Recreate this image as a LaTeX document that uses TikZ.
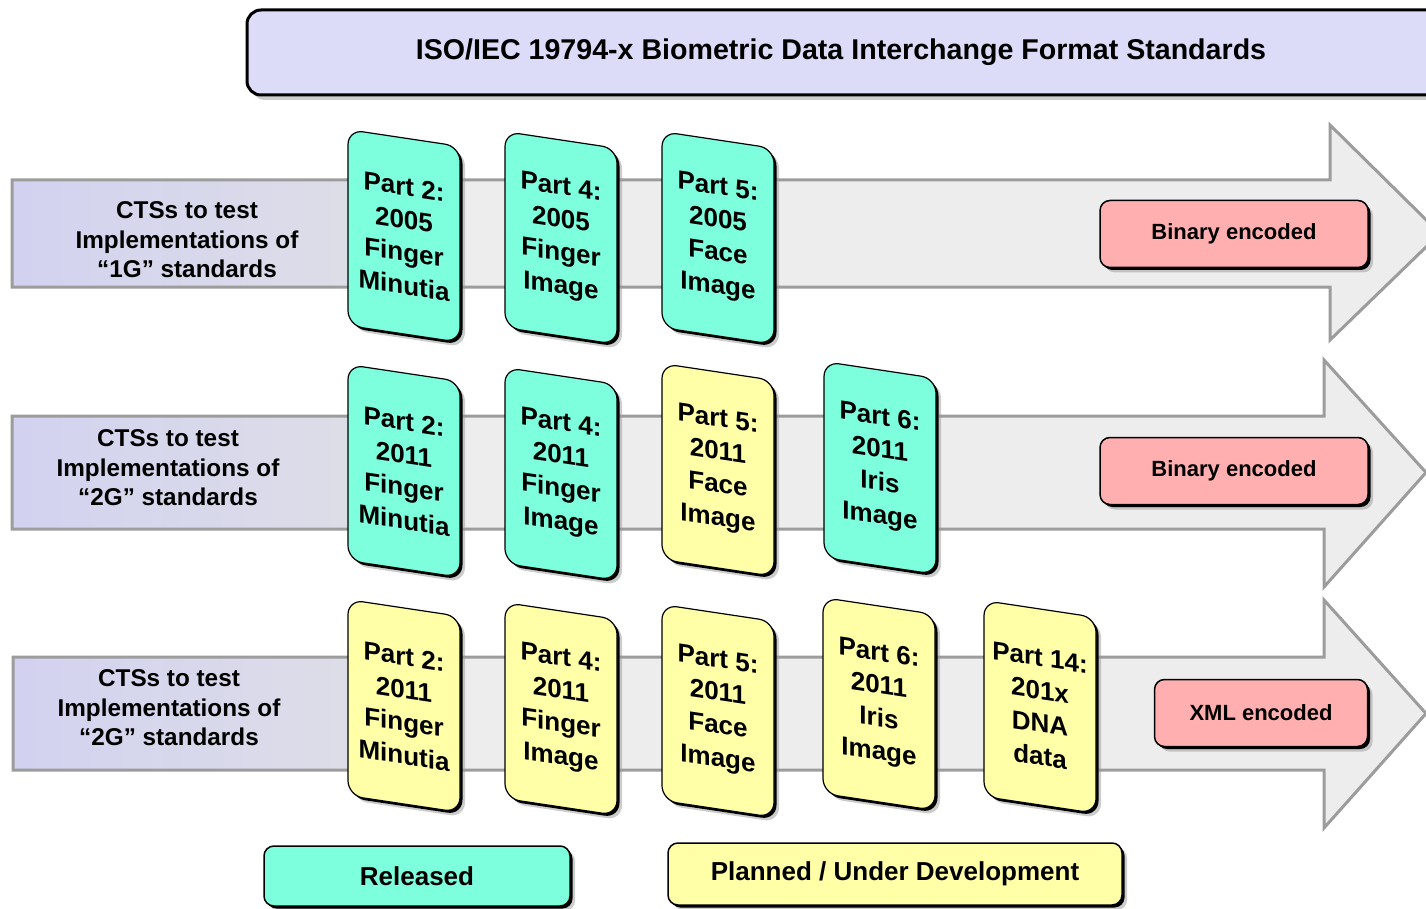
\documentclass[tikz,border=0pt]{standalone}
\usepackage{fontspec}
\setmainfont{Liberation Sans}
\usetikzlibrary{shadows}
\definecolor{lav}{HTML}{DCDCF8}
\definecolor{lavl}{HTML}{D2D2F0}
\definecolor{lavr}{HTML}{DDDDE8}
\definecolor{agray}{HTML}{EDEDED}
\definecolor{aborder}{HTML}{9C9C9C}
\definecolor{cyanc}{HTML}{7DFFDE}
\definecolor{yelc}{HTML}{FFFFA8}
\definecolor{pinkc}{HTML}{FFAFAF}
\begin{document}
\begin{tikzpicture}[x=1pt,y=-1pt,
  sh/.style={general shadow={fill=black!40, opacity=0.5, shadow xshift=5pt, shadow yshift=-5pt},
             general shadow={fill=black, shadow xshift=2.5pt, shadow yshift=-2.5pt}},
  card/.style={draw=black, line width=1.2pt, rounded corners=15pt, minimum width=112pt,
    minimum height=196pt, align=center, yslant=-0.15, inner sep=0pt, sh,
    font=\fontsize{26}{33}\selectfont\bfseries},
  rel/.style={card, fill=cyanc},
  plan/.style={card, fill=yelc},
  enc/.style={draw=black, line width=1.5pt, rounded corners=10pt, fill=pinkc, sh,
    minimum height=67pt, font=\fontsize{22}{26}\selectfont\bfseries},
  leg/.style={draw=black, line width=1.5pt, rounded corners=10pt, sh,
    font=\fontsize{26}{30}\selectfont\bfseries},
  lab/.style={align=center, font=\fontsize{24.3}{29.5}\selectfont\bfseries},
  arr/.style={draw=aborder, line width=3pt, line join=miter},
]
\useasboundingbox (0,0) rectangle (1426,909);
\clip (0,0) rectangle (1426,909);

% title
\path[draw=black, line width=3pt, rounded corners=14pt, fill=lav,
  general shadow={fill=black!40, opacity=0.5, shadow xshift=4pt, shadow yshift=-5pt}]
  (247,10) rectangle (1480,95);
\node[font=\fontsize{28.6}{32}\selectfont\bfseries] (title) at (841,52)
  {ISO/IEC 19794-x Biometric Data Interchange Format Standards};

% arrows
\foreach \lx/\yt/\yb/\ht/\hb/\bx/\tx in {12/180/287/125/340/1330/1440, 12/416/529/360/587/1324/1426, 13/657/770/600/828/1324/1426}{
  \fill[agray] (\lx,\yt) -- (\bx,\yt) -- (\bx,\ht) -- (\tx,{(\yt+\yb)/2}) -- (\bx,\hb) -- (\bx,\yb) -- (\lx,\yb) -- cycle;
  \foreach \i in {0,...,33}{
    \pgfmathtruncatemacro\p{100-\i*3}
    \fill[lavl!\p!lavr] ({\lx+\i*10},\yt) rectangle ({\lx+\i*10+10.6},\yb);
  }
  \path[arr] (\lx,\yt) -- (\bx,\yt) -- (\bx,\ht) -- (\tx,{(\yt+\yb)/2}) -- (\bx,\hb) -- (\bx,\yb) -- (\lx,\yb) -- cycle;
}

% row labels
\node[lab] (lab1) at (187,240) {CTSs to test\\Implementations of\\“1G” standards};
\node[lab] (lab2) at (168,468) {CTSs to test\\Implementations of\\“2G” standards};
\node[lab] (lab3) at (169,708) {CTSs to test\\Implementations of\\“2G” standards};

% row 1 cards
\node[rel] (c11) at (404,236) {Part 2:\\2005\\Finger\\Minutia};
\node[rel] (c12) at (561,238) {Part 4:\\2005\\Finger\\Image};
\node[rel] (c13) at (718,238) {Part 5:\\2005\\Face\\Image};
% row 2 cards
\node[rel] (c21) at (404,471) {Part 2:\\2011\\Finger\\Minutia};
\node[rel] (c22) at (561,474) {Part 4:\\2011\\Finger\\Image};
\node[plan] (c23) at (718,470) {Part 5:\\2011\\Face\\Image};
\node[rel] (c24) at (880,468) {Part 6:\\2011\\Iris\\Image};
% row 3 cards
\node[plan] (c31) at (404,706) {Part 2:\\2011\\Finger\\Minutia};
\node[plan] (c32) at (561,709) {Part 4:\\2011\\Finger\\Image};
\node[plan] (c33) at (718,711) {Part 5:\\2011\\Face\\Image};
\node[plan] (c34) at (879,704) {Part 6:\\2011\\Iris\\Image};
\node[plan] (c35) at (1040,707) {Part 14:\\201x\\DNA\\data};

% encodings
\node[enc, minimum width=268pt] (enc1) at (1234,234) {Binary encoded};
\node[enc, minimum width=268pt] (enc2) at (1234,471) {Binary encoded};
\node[enc, minimum width=213pt] (enc3) at (1261,713) {XML encoded};

% legend
\node[leg, fill=cyanc, minimum width=306pt, minimum height=60pt] (legR) at (417,876) {Released};
\node[leg, fill=yelc, minimum width=454pt, minimum height=62pt] (legP) at (895,874) {Planned / Under Development};
\end{tikzpicture}
\end{document}
